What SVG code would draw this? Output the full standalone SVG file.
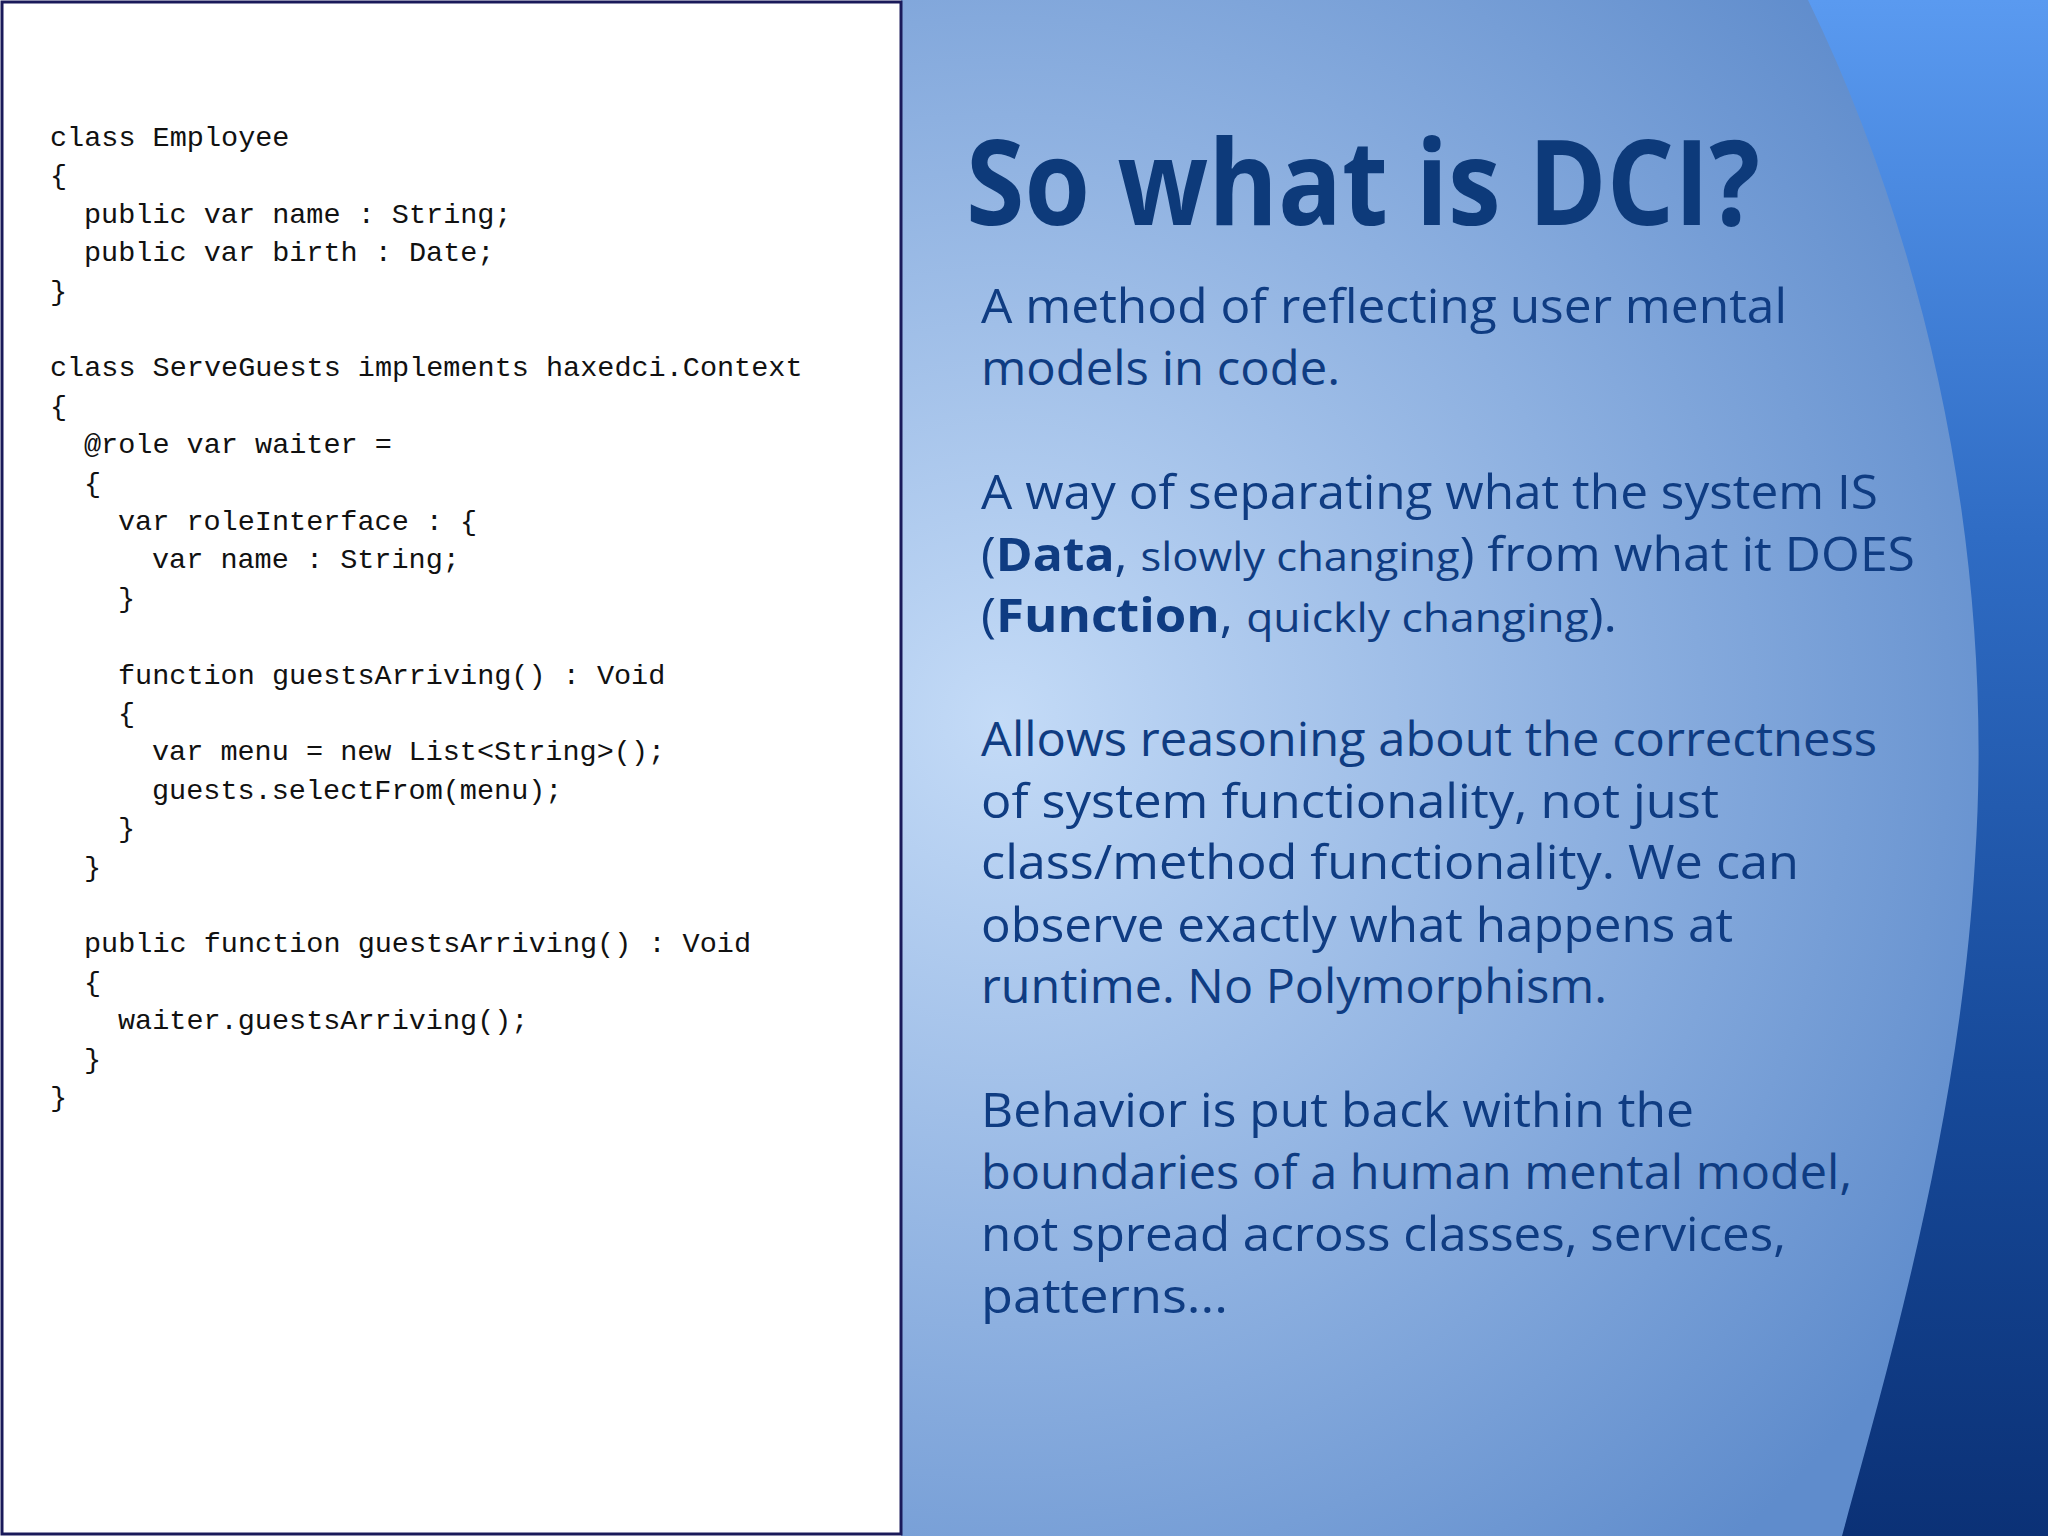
<svg xmlns="http://www.w3.org/2000/svg" width="2048" height="1536" viewBox="0 0 2048 1536">
<defs>
<radialGradient id="bg" cx="1000" cy="720" r="1100" gradientUnits="userSpaceOnUse">
<stop offset="0" stop-color="#c4dbf7"/>
<stop offset="0.55" stop-color="#8db0e0"/>
<stop offset="1" stop-color="#5f8ccc"/>
</radialGradient>
<linearGradient id="band" x1="0" y1="0" x2="0" y2="1">
<stop offset="0" stop-color="#5a9af0"/>
<stop offset="0.35" stop-color="#2f6cc4"/>
<stop offset="0.7" stop-color="#174a9a"/>
<stop offset="1" stop-color="#0b3176"/>
</linearGradient>
<style>
.code{font-family:"Liberation Mono","DejaVu Sans Mono",monospace;font-size:28.5px;fill:#111}
.body{font-family:"Open Sans","DejaVu Sans",sans-serif;font-size:47px;fill:#0f3c82}
.small{font-size:41px}
</style>
</defs>
<rect x="901" y="0" width="1147" height="1536" fill="url(#bg)"/>
<path d="M1808,0 C1930,250 1995,560 1975,860 C1960,1120 1890,1360 1842,1536 L2048,1536 L2048,0 Z" fill="url(#band)"/>
<rect x="2" y="2" width="899" height="1532" fill="#fff" stroke="#1a1a5a" stroke-width="3"/>
<g id="code">
<text class="code" x="50" y="146">class Employee</text>
<text class="code" x="50" y="184.4">{</text>
<text class="code" x="84" y="222.8">public var name : String;</text>
<text class="code" x="84" y="261.2">public var birth : Date;</text>
<text class="code" x="50" y="299.6">}</text>
<text class="code" x="50" y="376.4">class ServeGuests implements haxedci.Context</text>
<text class="code" x="50" y="414.8">{</text>
<text class="code" x="84" y="453.2">@role var waiter =</text>
<text class="code" x="84" y="491.6">{</text>
<text class="code" x="118" y="530">var roleInterface : {</text>
<text class="code" x="152" y="568.4">var name : String;</text>
<text class="code" x="118" y="606.8">}</text>
<text class="code" x="118" y="683.6">function guestsArriving() : Void</text>
<text class="code" x="118" y="722">{</text>
<text class="code" x="152" y="760.4">var menu = new List&lt;String&gt;();</text>
<text class="code" x="152" y="798.8">guests.selectFrom(menu);</text>
<text class="code" x="118" y="837.2">}</text>
<text class="code" x="84" y="875.6">}</text>
<text class="code" x="84" y="952.4">public function guestsArriving() : Void</text>
<text class="code" x="84" y="990.8">{</text>
<text class="code" x="118" y="1029.2">waiter.guestsArriving();</text>
<text class="code" x="84" y="1067.6">}</text>
<text class="code" x="50" y="1106">}</text>
</g>
<g id="title">
<text x="966" y="225" textLength="794" lengthAdjust="spacingAndGlyphs" style="font-family:'Open Sans','DejaVu Sans',sans-serif;font-weight:bold;font-size:118px;fill:#0d3a7a">So what is DCI?</text>
</g>
<g id="body">
<text class="body" x="981" y="322.6" textLength="806" lengthAdjust="spacingAndGlyphs">A method of reflecting user mental</text>
<text class="body" x="981" y="385.3" textLength="359" lengthAdjust="spacingAndGlyphs">models in code.</text>
<text class="body" x="981" y="509.3" textLength="897" lengthAdjust="spacingAndGlyphs">A way of separating what the system IS</text>
<text class="body" x="981" y="570.7" textLength="934" lengthAdjust="spacingAndGlyphs">(<tspan font-weight="bold">Data</tspan>, <tspan class="small">slowly changing</tspan>) from what it DOES</text>
<text class="body" x="981" y="632.1" textLength="636" lengthAdjust="spacingAndGlyphs">(<tspan font-weight="bold">Function</tspan>, <tspan class="small">quickly changing</tspan>).</text>
<text class="body" x="981" y="756.2" textLength="896" lengthAdjust="spacingAndGlyphs">Allows reasoning about the correctness</text>
<text class="body" x="981" y="817.6" textLength="738" lengthAdjust="spacingAndGlyphs">of system functionality, not just</text>
<text class="body" x="981" y="879" textLength="818" lengthAdjust="spacingAndGlyphs">class/method functionality. We can</text>
<text class="body" x="981" y="941.6" textLength="752" lengthAdjust="spacingAndGlyphs">observe exactly what happens at</text>
<text class="body" x="981" y="1003" textLength="626" lengthAdjust="spacingAndGlyphs">runtime. No Polymorphism.</text>
<text class="body" x="981" y="1127" textLength="713" lengthAdjust="spacingAndGlyphs">Behavior is put back within the</text>
<text class="body" x="981" y="1188.5" textLength="871" lengthAdjust="spacingAndGlyphs">boundaries of a human mental model,</text>
<text class="body" x="981" y="1251" textLength="805" lengthAdjust="spacingAndGlyphs">not spread across classes, services,</text>
<text class="body" x="981" y="1312.5" textLength="247" lengthAdjust="spacingAndGlyphs">patterns...</text>
</g>
</svg>
